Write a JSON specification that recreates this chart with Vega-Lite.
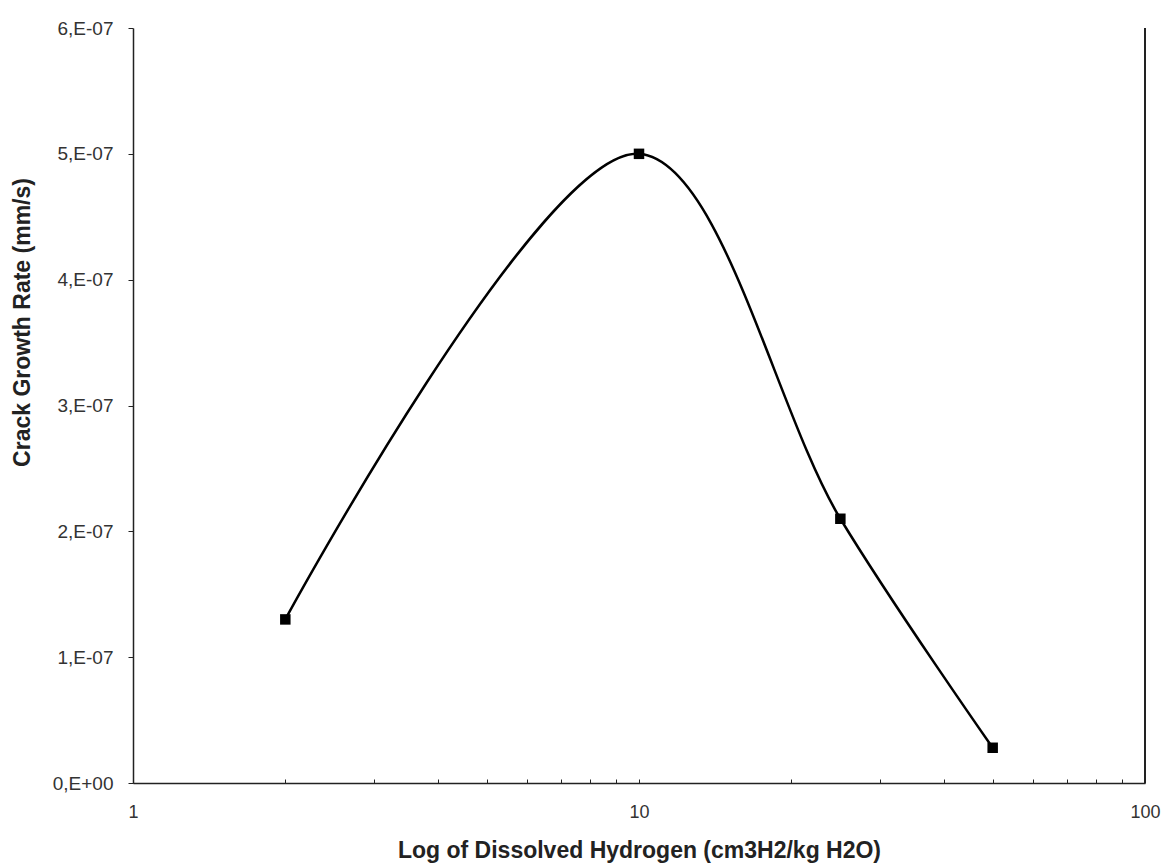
{
  "$schema": "https://vega.github.io/schema/vega-lite/v6.json",
  "width": 1012,
  "height": 755,
  "autosize": {"type": "none"},
  "padding": {"left": 133, "top": 28, "right": 16, "bottom": 80},
  "background": "white",
  "config": {
    "view": {"stroke": null},
    "font": "Liberation Sans",
    "axis": {"labelFont": "Liberation Sans", "titleFont": "Liberation Sans", "grid": false, "domainColor": "#222", "tickColor": "#222", "labelColor": "#333", "titleColor": "#222", "domainWidth": 1.5}
  },
  "data": {
    "values": [
      {"h2": 2, "rate": 1.3e-7},
      {"h2": 10, "rate": 5.0e-7},
      {"h2": 25, "rate": 2.1e-7},
      {"h2": 50, "rate": 0.28e-7}
    ]
  },
  "layer": [
    {
      "mark": {"type": "line", "interpolate": "catmull-rom", "color": "black", "strokeWidth": 2.5},
      "encoding": {
        "x": {
          "field": "h2", "type": "quantitative",
          "scale": {"type": "log", "domain": [1, 100], "nice": false},
          "axis": {
            "values": [1, 2, 3, 4, 5, 6, 7, 8, 9, 10, 20, 30, 40, 50, 60, 70, 80, 90, 100],
            "labelExpr": "datum.value == 1 || datum.value == 10 || datum.value == 100 ? datum.label : ''",
            "tickSize": -4,
            "labelPadding": 24,
            "labelFontSize": 18,
            "labelFlush": false,
            "labelOverlap": false,
            "title": "Log of Dissolved Hydrogen (cm3H2/kg H2O)",
            "titleFontSize": 23,
            "titleFontWeight": "bold",
            "titlePadding": 18
          }
        },
        "y": {
          "field": "rate", "type": "quantitative",
          "scale": {"domain": [0, 6e-7], "nice": false},
          "axis": {
            "values": [0, 1e-7, 2e-7, 3e-7, 4e-7, 5e-7, 6e-7],
            "labelExpr": "datum.value == 0 ? '0,E+00' : round(datum.value * 1e7) + ',E-07'",
            "tickSize": 5,
            "labelPadding": 15,
            "labelFontSize": 19,
            "title": "Crack Growth Rate (mm/s)",
            "titleFontSize": 23,
            "titleFontWeight": "bold",
            "titlePadding": 18,
            "titleY": 294
          }
        }
      }
    },
    {
      "mark": {"type": "square", "color": "black", "filled": true, "opacity": 1, "size": 110},
      "encoding": {
        "x": {"field": "h2", "type": "quantitative"},
        "y": {"field": "rate", "type": "quantitative"}
      }
    },
    {
      "mark": {"type": "rule", "color": "#222", "strokeWidth": 1.5},
      "encoding": {"x": {"datum": 100}}
    }
  ]
}
